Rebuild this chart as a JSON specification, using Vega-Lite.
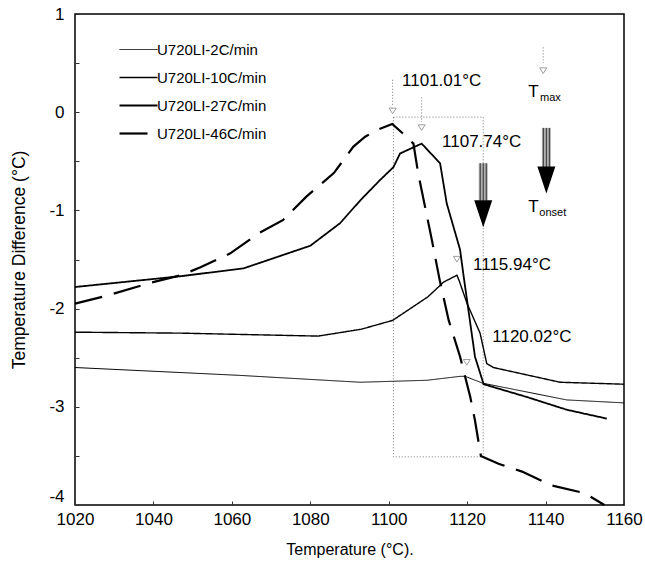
{
  "$schema": "https://vega.github.io/schema/vega-lite/v6.json",
  "width": 549,
  "height": 491,
  "autosize": {"type": "none"},
  "padding": {"left": 75, "top": 14, "right": 21, "bottom": 70},
  "background": "white",
  "config": {
    "font": "Liberation Sans",
    "view": {"stroke": "black", "strokeWidth": 1.5},
    "axis": {"grid": false, "domain": false, "labelFont": "Liberation Sans", "titleFont": "Liberation Sans", "labelColor": "black", "titleColor": "black", "tickColor": "#333"}
  },
  "datasets": {
    "curves": [
      {"series": "U720LI-2C/min", "t": 1020, "d": -2.6},
      {"series": "U720LI-2C/min", "t": 1062, "d": -2.68},
      {"series": "U720LI-2C/min", "t": 1092.7, "d": -2.75},
      {"series": "U720LI-2C/min", "t": 1109.7, "d": -2.73},
      {"series": "U720LI-2C/min", "t": 1118.2, "d": -2.69},
      {"series": "U720LI-2C/min", "t": 1119.5, "d": -2.69},
      {"series": "U720LI-2C/min", "t": 1124, "d": -2.76},
      {"series": "U720LI-2C/min", "t": 1145.4, "d": -2.93},
      {"series": "U720LI-2C/min", "t": 1160, "d": -2.96},

      {"series": "U720LI-10C/min", "t": 1020, "d": -2.24},
      {"series": "U720LI-10C/min", "t": 1047, "d": -2.25},
      {"series": "U720LI-10C/min", "t": 1082, "d": -2.28},
      {"series": "U720LI-10C/min", "t": 1093, "d": -2.21},
      {"series": "U720LI-10C/min", "t": 1101, "d": -2.12},
      {"series": "U720LI-10C/min", "t": 1110, "d": -1.88},
      {"series": "U720LI-10C/min", "t": 1114, "d": -1.73},
      {"series": "U720LI-10C/min", "t": 1117.4, "d": -1.66},
      {"series": "U720LI-10C/min", "t": 1118, "d": -1.72},
      {"series": "U720LI-10C/min", "t": 1120, "d": -1.95},
      {"series": "U720LI-10C/min", "t": 1123.3, "d": -2.25},
      {"series": "U720LI-10C/min", "t": 1125, "d": -2.56},
      {"series": "U720LI-10C/min", "t": 1126.7, "d": -2.6},
      {"series": "U720LI-10C/min", "t": 1143.7, "d": -2.75},
      {"series": "U720LI-10C/min", "t": 1160, "d": -2.77},

      {"series": "U720LI-27C/min", "t": 1020, "d": -1.78},
      {"series": "U720LI-27C/min", "t": 1047, "d": -1.67},
      {"series": "U720LI-27C/min", "t": 1063, "d": -1.59},
      {"series": "U720LI-27C/min", "t": 1080, "d": -1.36},
      {"series": "U720LI-27C/min", "t": 1087.6, "d": -1.13},
      {"series": "U720LI-27C/min", "t": 1092.7, "d": -0.9},
      {"series": "U720LI-27C/min", "t": 1097.8, "d": -0.69},
      {"series": "U720LI-27C/min", "t": 1101.2, "d": -0.56},
      {"series": "U720LI-27C/min", "t": 1102.9, "d": -0.42},
      {"series": "U720LI-27C/min", "t": 1108.4, "d": -0.32},
      {"series": "U720LI-27C/min", "t": 1113.1, "d": -0.52},
      {"series": "U720LI-27C/min", "t": 1114.8, "d": -0.93},
      {"series": "U720LI-27C/min", "t": 1118.2, "d": -1.4},
      {"series": "U720LI-27C/min", "t": 1119, "d": -1.64},
      {"series": "U720LI-27C/min", "t": 1120.8, "d": -2.15},
      {"series": "U720LI-27C/min", "t": 1122, "d": -2.49},
      {"series": "U720LI-27C/min", "t": 1124.2, "d": -2.77},
      {"series": "U720LI-27C/min", "t": 1135.2, "d": -2.9},
      {"series": "U720LI-27C/min", "t": 1145.4, "d": -3.03},
      {"series": "U720LI-27C/min", "t": 1155.6, "d": -3.12},

      {"series": "U720LI-46C/min", "t": 1020, "d": -1.95},
      {"series": "U720LI-46C/min", "t": 1028, "d": -1.87},
      {"series": "U720LI-46C/min", "t": 1039, "d": -1.74},
      {"series": "U720LI-46C/min", "t": 1047, "d": -1.66},
      {"series": "U720LI-46C/min", "t": 1052, "d": -1.58},
      {"series": "U720LI-46C/min", "t": 1059.5, "d": -1.44},
      {"series": "U720LI-46C/min", "t": 1067, "d": -1.23},
      {"series": "U720LI-46C/min", "t": 1073, "d": -1.1},
      {"series": "U720LI-46C/min", "t": 1079, "d": -0.86},
      {"series": "U720LI-46C/min", "t": 1086, "d": -0.62},
      {"series": "U720LI-46C/min", "t": 1091, "d": -0.35},
      {"series": "U720LI-46C/min", "t": 1094, "d": -0.25},
      {"series": "U720LI-46C/min", "t": 1097, "d": -0.18},
      {"series": "U720LI-46C/min", "t": 1100.9, "d": -0.12},
      {"series": "U720LI-46C/min", "t": 1103.7, "d": -0.22},
      {"series": "U720LI-46C/min", "t": 1106.3, "d": -0.32},
      {"series": "U720LI-46C/min", "t": 1107.5, "d": -0.62},
      {"series": "U720LI-46C/min", "t": 1111, "d": -1.3},
      {"series": "U720LI-46C/min", "t": 1113, "d": -1.71},
      {"series": "U720LI-46C/min", "t": 1115.3, "d": -2.12},
      {"series": "U720LI-46C/min", "t": 1118.2, "d": -2.49},
      {"series": "U720LI-46C/min", "t": 1120.8, "d": -2.9},
      {"series": "U720LI-46C/min", "t": 1122, "d": -3.14},
      {"series": "U720LI-46C/min", "t": 1123.5, "d": -3.5},
      {"series": "U720LI-46C/min", "t": 1128, "d": -3.58},
      {"series": "U720LI-46C/min", "t": 1134, "d": -3.66},
      {"series": "U720LI-46C/min", "t": 1141.5, "d": -3.8},
      {"series": "U720LI-46C/min", "t": 1150, "d": -3.88},
      {"series": "U720LI-46C/min", "t": 1155, "d": -4.0}
    ],
    "box": [{"t": 1101.2, "t2": 1124.1, "d": -0.05, "d2": -3.51}],
    "guides": [
      {"t": 1101.0, "d": 0.33, "d2": 0.06},
      {"t": 1108.4, "d": 0.15, "d2": -0.1},
      {"t": 1139.4, "d": 0.66, "d2": 0.5}
    ],
    "markers": [
      {"t": 1101.0, "d": 0.02},
      {"t": 1108.4, "d": -0.15},
      {"t": 1117.4, "d": -1.49},
      {"t": 1119.9, "d": -2.54},
      {"t": 1139.4, "d": 0.43}
    ],
    "labels": [
      {"t": 1103.4, "d": 0.32, "text": "1101.01°C"},
      {"t": 1113.6, "d": -0.3, "text": "1107.74°C"},
      {"t": 1121.5, "d": -1.56, "text": "1115.94°C"},
      {"t": 1126.4, "d": -2.29, "text": "1120.02°C"},
      {"t": 1135.6, "d": 0.21, "text": "T"},
      {"t": 1135.6, "d": -0.97, "text": "T"}
    ],
    "subs": [
      {"t": 1138.6, "d": 0.14, "text": "max"},
      {"t": 1138.4, "d": -1.03, "text": "onset"}
    ],
    "arrows": [
      {"t": 1124.1, "d": -0.52, "d2": -0.9, "head": -1.035},
      {"t": 1140.2, "d": -0.16, "d2": -0.56, "head": -0.69}
    ]
  },
  "layer": [
    {
      "data": {"name": "box"},
      "mark": {"type": "rect", "fill": null, "stroke": "#777", "strokeWidth": 1, "strokeDash": [1, 2]},
      "encoding": {
        "x": {"field": "t", "type": "quantitative", "scale": {"domain": [1020, 1160], "nice": false, "zero": false},
          "axis": {"title": "Temperature (°C).", "titleFontSize": 16, "titleFontWeight": "normal", "titlePadding": 14, "values": [1020, 1030, 1040, 1050, 1060, 1070, 1080, 1090, 1100, 1110, 1120, 1130, 1140, 1150, 1160], "labelExpr": "datum.value % 20 === 0 ? datum.value + '' : ''", "labelFontSize": 17, "labelPadding": 10, "tickSize": -4, "labelFlush": false, "labelOverlap": false}},
        "x2": {"field": "t2"},
        "y": {"field": "d", "type": "quantitative", "scale": {"domain": [-4, 1], "nice": false, "zero": false},
          "axis": {"title": "Temperature Difference  (°C)", "titleFontSize": 17.5, "titleFontWeight": "normal", "titlePadding": 20, "values": [-4, -3.75, -3.5, -3.25, -3, -2.75, -2.5, -2.25, -2, -1.75, -1.5, -1.25, -1, -0.75, -0.5, -0.25, 0, 0.25, 0.5, 0.75, 1], "labelExpr": "datum.value % 1 === 0 ? datum.value + '' : ''", "labelFontSize": 17, "labelPadding": 15, "labelBaseline": {"condition": {"test": "datum.value === -4", "value": "bottom"}, "value": "middle"}, "tickSize": -4, "labelFlush": false, "labelOverlap": false}},
        "y2": {"field": "d2"}
      }
    },
    {
      "data": {"name": "guides"},
      "mark": {"type": "rule", "stroke": "#777", "strokeWidth": 1, "strokeDash": [1, 2]},
      "encoding": {
        "x": {"field": "t", "type": "quantitative"},
        "y": {"field": "d", "type": "quantitative"},
        "y2": {"field": "d2"}
      }
    },
    {
      "data": {"name": "markers"},
      "mark": {"type": "point", "shape": "M-1,-0.6L1,-0.6L0,1Z", "size": 50, "stroke": "#777", "strokeWidth": 1, "filled": false},
      "encoding": {
        "x": {"field": "t", "type": "quantitative"},
        "y": {"field": "d", "type": "quantitative"}
      }
    },
    {
      "data": {"name": "curves"},
      "mark": {"type": "line", "color": "black", "strokeJoin": "miter"},
      "encoding": {
        "x": {"field": "t", "type": "quantitative"},
        "y": {"field": "d", "type": "quantitative"},
        "strokeDash": {"field": "series", "type": "nominal",
          "scale": {"domain": ["U720LI-2C/min", "U720LI-10C/min", "U720LI-27C/min", "U720LI-46C/min"], "range": [[1, 0], [1, 0], [1, 0], [28, 12]]},
          "legend": {"title": null, "orient": "none", "legendX": 56, "legendY": 28, "symbolType": "M-6,0H6", "symbolSize": 40, "symbolStrokeColor": "black", "labelFontSize": 15, "labelFont": "Liberation Sans", "labelColor": "black", "labelOffset": 11, "rowPadding": 12}},
        "strokeWidth": {"field": "series", "type": "nominal",
          "scale": {"domain": ["U720LI-2C/min", "U720LI-10C/min", "U720LI-27C/min", "U720LI-46C/min"], "range": [1, 2.2, 3.6, 3.8]},
          "legend": {"title": null, "orient": "none", "legendX": 56, "legendY": 28, "symbolType": "M-6,0H6", "symbolSize": 40, "symbolStrokeColor": "black", "labelFontSize": 15, "labelFont": "Liberation Sans", "labelColor": "black", "labelOffset": 11, "rowPadding": 12}}
      }
    },
    {
      "data": {"name": "arrows"},
      "mark": {"type": "rule", "stroke": "#b0b0b0", "strokeWidth": 9},
      "encoding": {
        "x": {"field": "t", "type": "quantitative"},
        "y": {"field": "d", "type": "quantitative"},
        "y2": {"field": "d2"}
      }
    },
    {
      "data": {"name": "arrows"},
      "mark": {"type": "rule", "stroke": "#333", "strokeWidth": 1, "xOffset": -3},
      "encoding": {
        "x": {"field": "t", "type": "quantitative"},
        "y": {"field": "d", "type": "quantitative"},
        "y2": {"field": "d2"}
      }
    },
    {
      "data": {"name": "arrows"},
      "mark": {"type": "rule", "stroke": "#333", "strokeWidth": 1, "xOffset": 0},
      "encoding": {
        "x": {"field": "t", "type": "quantitative"},
        "y": {"field": "d", "type": "quantitative"},
        "y2": {"field": "d2"}
      }
    },
    {
      "data": {"name": "arrows"},
      "mark": {"type": "rule", "stroke": "#333", "strokeWidth": 1, "xOffset": 3},
      "encoding": {
        "x": {"field": "t", "type": "quantitative"},
        "y": {"field": "d", "type": "quantitative"},
        "y2": {"field": "d2"}
      }
    },
    {
      "data": {"name": "arrows"},
      "mark": {"type": "point", "shape": "M-1,-1.5L1,-1.5L0,1.5Z", "size": 324, "filled": true, "fill": "black", "stroke": null, "opacity": 1},
      "encoding": {
        "x": {"field": "t", "type": "quantitative"},
        "y": {"field": "head", "type": "quantitative"}
      }
    },
    {
      "data": {"name": "labels"},
      "mark": {"type": "text", "align": "left", "baseline": "middle", "fontSize": 17, "font": "Liberation Sans", "color": "black"},
      "encoding": {
        "x": {"field": "t", "type": "quantitative"},
        "y": {"field": "d", "type": "quantitative"},
        "text": {"field": "text"}
      }
    },
    {
      "data": {"name": "subs"},
      "mark": {"type": "text", "align": "left", "baseline": "middle", "fontSize": 11, "font": "Liberation Sans", "color": "black"},
      "encoding": {
        "x": {"field": "t", "type": "quantitative"},
        "y": {"field": "d", "type": "quantitative"},
        "text": {"field": "text"}
      }
    }
  ]
}
